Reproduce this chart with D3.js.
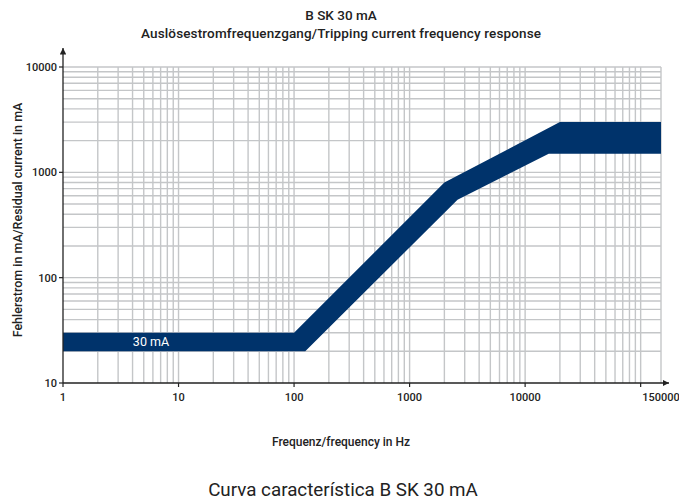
<!DOCTYPE html>
<html>
<head>
<meta charset="utf-8">
<script src="https://cdn.jsdelivr.net/npm/d3@7"></script>
<style>
  body { margin: 0; background: #fff; }
  text { font-family: Roboto, "Liberation Sans", sans-serif; }
</style>
</head>
<body>
<div id="chart"></div>
<script>
var w = 679;
var h = 500;

// band corners (frequency in Hz, current in mA)
var topFreq = [1, 100, 2000, 20000, 150000];
var topCurrent = [30, 30, 800, 3000, 3000];
var bottomFreq = [1, 125, 2600, 16000, 150000];
var bottomCurrent = [20, 20, 550, 1500, 1500];

var xTickLabels = [1, 10, 100, 1000, 10000, 150000];
var yTickLabels = [10, 100, 1000, 10000];

var title1 = "B SK 30 mA";
var title2 = "Auslösestromfrequenzgang/Tripping current frequency response";
var xTitle = "Frequenz/frequency in Hz";
var yTitle = "Fehlerstrom in mA/Residual current in mA";
var caption = "Curva característica B SK 30 mA";
var bandLabel = "30 mA";

var svg = d3.select("#chart").append("svg")
    .attr("width", w)
    .attr("height", h);

var x = d3.scaleLog().domain([1, 150000]).range([63, 661]);
var y = d3.scaleLog().domain([10, 10000]).range([383, 67]);

// grid
var grid = svg.append("g").attr("stroke", "#c4c6c8").attr("stroke-width", 1.4);
var xGrid = x.ticks().filter(d => d > 1);
xGrid.push(150000);
grid.selectAll(".vx").data(xGrid).enter().append("line")
    .attr("x1", d => x(d)).attr("x2", d => x(d))
    .attr("y1", y(10)).attr("y2", y(10000));
var yGrid = y.ticks().filter(d => d > 10);
grid.selectAll(".hy").data(yGrid).enter().append("line")
    .attr("x1", x(1)).attr("x2", x(150000))
    .attr("y1", d => y(d)).attr("y2", d => y(d));

// band
var pts = topFreq.map((f, i) => [x(f), y(topCurrent[i])]);
for (var i = bottomFreq.length - 1; i >= 0; i--) {
    pts.push([x(bottomFreq[i]), y(bottomCurrent[i])]);
}
svg.append("path")
    .attr("d", d3.line()(pts) + "Z")
    .attr("fill", "#00336b");

svg.append("text")
    .attr("x", 151).attr("y", y(24.5))
    .attr("dy", "0.35em")
    .attr("text-anchor", "middle")
    .attr("fill", "#fff")
    .attr("font-size", 12.5)
    .text(bandLabel);

// axes with arrows
svg.append("defs").append("marker")
    .attr("id", "arrow")
    .attr("viewBox", "0 0 10 10")
    .attr("refX", 10).attr("refY", 5)
    .attr("markerWidth", 5).attr("markerHeight", 5)
    .attr("orient", "auto")
    .append("path").attr("d", "M0,0L10,5L0,10Z").attr("fill", "#222");

svg.append("line")
    .attr("x1", x(1)).attr("x2", 669)
    .attr("y1", y(10)).attr("y2", y(10))
    .attr("stroke", "#222").attr("stroke-width", 1.3)
    .attr("marker-end", "url(#arrow)");
svg.append("line")
    .attr("x1", x(1)).attr("x2", x(1))
    .attr("y1", y(10)).attr("y2", 48)
    .attr("stroke", "#222").attr("stroke-width", 1.3)
    .attr("marker-end", "url(#arrow)");

// y ticks
svg.selectAll(".yt").data(yTickLabels).enter().append("line")
    .attr("x1", x(1) - 4).attr("x2", x(1))
    .attr("y1", d => y(d)).attr("y2", d => y(d))
    .attr("stroke", "#222").attr("stroke-width", 1.2);
svg.selectAll(".yl").data(yTickLabels).enter().append("text")
    .attr("x", 57).attr("y", d => y(d))
    .attr("dy", "0.35em")
    .attr("text-anchor", "end")
    .attr("font-size", 11)
    .attr("font-weight", 500)
    .attr("fill", "#222")
    .text(d => d);

// x ticks
svg.selectAll(".xt").data(xTickLabels.filter(d => d < 150000).concat([100000])).enter().append("line")
    .attr("x1", d => x(d)).attr("x2", d => x(d))
    .attr("y1", y(10)).attr("y2", y(10) + 4)
    .attr("stroke", "#222").attr("stroke-width", 1.2);
svg.selectAll(".xl").data(xTickLabels).enter().append("text")
    .attr("x", d => x(d)).attr("y", 401)
    .attr("text-anchor", "middle")
    .attr("font-size", 11)
    .attr("font-weight", 500)
    .attr("fill", "#222")
    .text(d => d);

// titles
svg.append("text")
    .attr("x", 341).attr("y", 20)
    .attr("text-anchor", "middle")
    .attr("font-size", 13.5).attr("font-weight", 500)
    .attr("fill", "#222")
    .text(title1);
svg.append("text")
    .attr("x", 341).attr("y", 38)
    .attr("text-anchor", "middle")
    .attr("font-size", 13.5).attr("font-weight", 500)
    .attr("textLength", 400)
    .attr("fill", "#222")
    .text(title2);

svg.append("text")
    .attr("x", 341).attr("y", 446)
    .attr("text-anchor", "middle")
    .attr("font-size", 12).attr("font-weight", 500)
    .attr("fill", "#222")
    .text(xTitle);

svg.append("text")
    .attr("transform", "translate(22,220) rotate(-90)")
    .attr("text-anchor", "middle")
    .attr("font-size", 12.5).attr("font-weight", 500)
    .attr("fill", "#222")
    .text(yTitle);

svg.append("text")
    .attr("x", 343).attr("y", 496)
    .attr("text-anchor", "middle")
    .attr("font-size", 18.8)
    .attr("font-family", "Lato, 'Open Sans', sans-serif")
    .attr("fill", "#222")
    .text(caption);
</script>
</body>
</html>
